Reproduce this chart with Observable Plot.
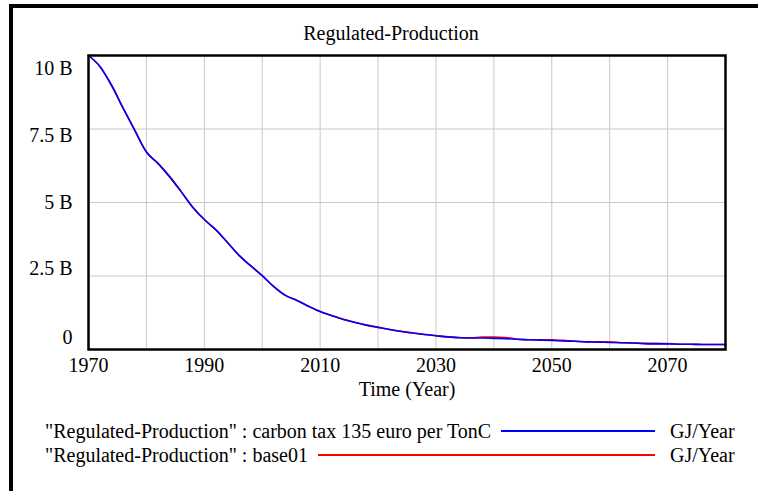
<!DOCTYPE html>
<html>
<head>
<meta charset="utf-8">
<script src="https://cdn.jsdelivr.net/npm/d3@7"></script>
<script src="https://cdn.jsdelivr.net/npm/@observablehq/plot@0.6"></script>
<style>
  html, body { margin: 0; padding: 0; background: #fff; }
  #wrap { position: relative; width: 758px; height: 491px; overflow: hidden; font-family: "Liberation Serif", "Times New Roman", serif; color: #000; }
  #border { position: absolute; left: 9px; top: 4px; width: 800px; height: 600px; border-top: 4px solid #000; border-left: 4px solid #000; box-sizing: border-box; }
  #chart { position: absolute; left: 0; top: 0; }
  .txt { position: absolute; font-size: 20px; white-space: nowrap; line-height: 1; }
  .row { position: absolute; left: 45px; width: 610px; height: 20px; display: flex; align-items: center; font-size: 20px; white-space: nowrap; line-height: 1; }
  .row .ln { flex: 1; margin-left: 10px; height: 2px; }
</style>
</head>
<body>
<div id="wrap">
  <div id="border"></div>
  <div id="chart"></div>
</div>
<script>
const title = "Regulated-Production";
const xLabel = "Time (Year)";
const seriesNames = ["\"Regulated-Production\" : carbon tax 135 euro per TonC", "\"Regulated-Production\" : base01"];
const seriesColors = ["#0000ff", "#ff0000"];
const unitLabel = "GJ/Year";

const years = [1970,1972,1974,1976,1978,1980,1982,1984,1986,1988,1990,1992,1994,1996,1998,2000,2002,2004,2006,2008,2010,2012,2014,2016,2018,2020,2022,2024,2026,2028,2030,2032,2034,2036,2038,2040,2042,2044,2046,2048,2050,2052,2054,2056,2058,2060,2062,2064,2066,2068,2070,2072,2074,2076,2078,2080];
// values in billions (B) GJ/Year
const carbonTax = [10.0,9.62,8.98,8.2,7.45,6.72,6.33,5.88,5.37,4.84,4.42,4.07,3.64,3.2,2.85,2.51,2.14,1.84,1.67,1.47,1.29,1.15,1.02,0.92,0.83,0.75,0.68,0.61,0.56,0.51,0.47,0.43,0.40,0.39,0.39,0.38,0.37,0.35,0.33,0.32,0.31,0.29,0.28,0.26,0.25,0.24,0.23,0.22,0.20,0.19,0.19,0.18,0.18,0.17,0.17,0.17];
const base01 =    [10.0,9.62,8.98,8.2,7.45,6.72,6.33,5.88,5.37,4.84,4.42,4.07,3.64,3.2,2.85,2.51,2.14,1.84,1.67,1.47,1.29,1.16,1.03,0.93,0.83,0.76,0.68,0.62,0.56,0.51,0.47,0.43,0.41,0.40,0.42,0.42,0.41,0.35,0.33,0.33,0.33,0.31,0.28,0.26,0.26,0.26,0.23,0.22,0.21,0.21,0.20,0.18,0.18,0.17,0.17,0.17];

const yTicks = [0, 2.5e9, 5e9, 7.5e9, 10e9];
const yTickShift = [-12, -7, 0, 7, 13];
const xTickLabels = [1970, 1990, 2010, 2030, 2050, 2070];
const xGrid = [1980, 1990, 2000, 2010, 2020, 2030, 2040, 2050, 2060, 2070];

const data = [];
years.forEach((y, i) => {
  data.push({year: y, value: base01[i] * 1e9, series: seriesNames[1]});
});
years.forEach((y, i) => {
  data.push({year: y, value: carbonTax[i] * 1e9, series: seriesNames[0]});
});

const fmt = d => d === 0 ? "0" : (d / 1e9) + " B";

const yAxes = yTicks.map((t, i) => Plot.axisY([t], {
  tickSize: 0, tickPadding: 16, tickFormat: fmt, dy: yTickShift[i], label: null, fontSize: 20
}));

const plot = Plot.plot({
  width: 758,
  height: 491,
  marginLeft: 88,
  marginTop: 55,
  marginRight: 33,
  marginBottom: 142,
  style: {fontFamily: "'Liberation Serif', 'Times New Roman', serif", fontSize: "20px", background: "transparent", color: "#000"},
  x: {domain: [1970, 2080]},
  y: {domain: [0, 10e9]},
  marks: [
    Plot.gridX(xGrid, {stroke: "#c8c8c8", strokeOpacity: 1, strokeWidth: 1}),
    Plot.gridY(yTicks, {stroke: "#c8c8c8", strokeOpacity: 1, strokeWidth: 1}),
    Plot.lineY(data.filter(d => d.series === seriesNames[1]), {x: "year", y: "value", stroke: seriesColors[1], strokeWidth: 1.6, curve: "monotone-x"}),
    Plot.lineY(data.filter(d => d.series === seriesNames[0]), {x: "year", y: "value", stroke: seriesColors[0], strokeWidth: 1.6, curve: "monotone-x"}),
    Plot.frame({stroke: "#000", strokeWidth: 2.5}),
    ...yAxes,
    Plot.axisX(xTickLabels, {tickSize: 0, tickPadding: 8, tickFormat: d => String(d), label: null, fontSize: 20}),
  ]
});
document.getElementById("chart").appendChild(plot);

const wrap = document.getElementById("wrap");
function addText(str, left, top, center) {
  const d = document.createElement("div");
  d.className = "txt";
  d.textContent = str;
  d.style.left = left + "px";
  d.style.top = top + "px";
  if (center) d.style.transform = "translateX(-50%)";
  wrap.appendChild(d);
  return d;
}
addText(title, 391, 23, true);
addText(xLabel, 407, 378.5, true);

seriesNames.forEach((name, i) => {
  const top = 421 + i * 24;
  const row = document.createElement("div");
  row.className = "row";
  row.style.top = top + "px";
  const s = document.createElement("span");
  s.textContent = name;
  const l = document.createElement("span");
  l.className = "ln";
  l.style.background = seriesColors[i];
  row.appendChild(s);
  row.appendChild(l);
  wrap.appendChild(row);
  addText(unitLabel, 670, top, false);
});
</script>
</body>
</html>
